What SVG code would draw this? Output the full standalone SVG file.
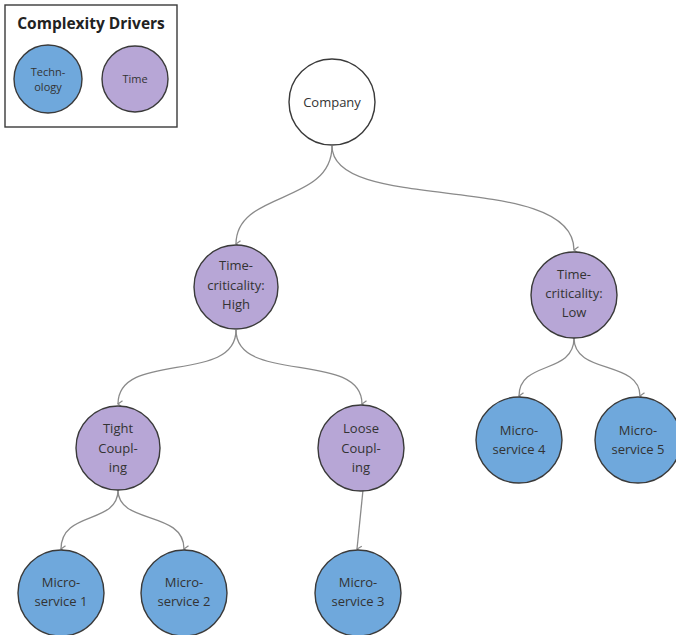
<svg xmlns="http://www.w3.org/2000/svg" width="676" height="635" viewBox="0 0 676 635">
  <defs>
    <marker id="arrow" markerWidth="8" markerHeight="8" refX="4" refY="7" orient="auto-start-reverse" markerUnits="userSpaceOnUse" viewBox="0 0 8 8">
      <path d="M0.8,2.5 L4,7 L7.2,2.5" fill="none" stroke="#8a8a8a" stroke-width="1.2"/>
    </marker>
    <style>
      .tech { fill: #6fa8dc; stroke: #3a3a3a; stroke-width: 1.4; }
      .time { fill: #b7a6d6; stroke: #3a3a3a; stroke-width: 1.4; }
      .plain { fill: #ffffff; stroke: #3a3a3a; stroke-width: 1.4; }
      .lbl { font-family: "Open Sans", "Liberation Sans", sans-serif; font-size: 13px; fill: #333333; text-anchor: middle; }
      .small { font-size: 11px; }
      .title { font-family: "Open Sans", "Liberation Sans", sans-serif; font-size: 15.5px; font-weight: bold; fill: #222222; text-anchor: middle; }
      .edge { fill: none; stroke: #8a8a8a; stroke-width: 1.3; marker-end: url(#arrow); }
    </style>
  </defs>
  <rect width="676" height="635" fill="#ffffff"/>

  <!-- legend -->
  <g id="legend">
    <rect x="5" y="5" width="172" height="122" fill="#ffffff" stroke="#3a3a3a" stroke-width="1.4"/>
    <text class="title" x="91" y="29">Complexity Drivers</text>
    <circle class="tech" cx="48" cy="79" r="34"/>
    <text class="lbl small" x="48" y="76">Techn-</text>
    <text class="lbl small" x="48" y="91">ology</text>
    <circle class="time" cx="135" cy="79" r="33"/>
    <text class="lbl small" x="135" y="83">Time</text>
  </g>

  <!-- connectors -->
  <g id="connectors">
    <path class="edge" d="M332,146 C332,205 236,190 236,244"/>
    <path class="edge" d="M332,146 C332,215 574,170 574,250"/>
    <path class="edge" d="M236,330 C236,385 118,350 118,404"/>
    <path class="edge" d="M236,330 C236,385 362,350 362,404"/>
    <path class="edge" d="M574,338 C574,375 519,360 519,396"/>
    <path class="edge" d="M574,338 C574,375 640,360 640,396"/>
    <path class="edge" d="M118,490 C118,525 61,510 61,549"/>
    <path class="edge" d="M118,490 C118,525 184,510 184,549"/>
    <path class="edge" d="M363,490 L357,549"/>
  </g>

  <g id="company">
    <circle class="plain" cx="332" cy="102" r="43"/>
    <text class="lbl" x="332" y="107" font-size="14">Company</text>
  </g>

  <g id="tc-high">
    <circle class="time" cx="236" cy="287" r="42"/>
    <text class="lbl" x="236" y="270">Time-</text>
    <text class="lbl" x="236" y="290">criticality:</text>
    <text class="lbl" x="236" y="309">High</text>
  </g>

  <g id="tc-low">
    <circle class="time" cx="574" cy="295" r="43"/>
    <text class="lbl" x="574" y="279">Time-</text>
    <text class="lbl" x="574" y="298">criticality:</text>
    <text class="lbl" x="574" y="317">Low</text>
  </g>

  <g id="tight">
    <circle class="time" cx="118" cy="448" r="42"/>
    <text class="lbl" x="118" y="433">Tight</text>
    <text class="lbl" x="118" y="453">Coupl-</text>
    <text class="lbl" x="118" y="472">ing</text>
  </g>

  <g id="loose">
    <circle class="time" cx="361" cy="448" r="43"/>
    <text class="lbl" x="361" y="433">Loose</text>
    <text class="lbl" x="361" y="453">Coupl-</text>
    <text class="lbl" x="361" y="472">ing</text>
  </g>

  <g id="ms4">
    <circle class="tech" cx="519" cy="440" r="43"/>
    <text class="lbl" x="519" y="435">Micro-</text>
    <text class="lbl" x="519" y="454">service 4</text>
  </g>

  <g id="ms5">
    <circle class="tech" cx="638" cy="440" r="43"/>
    <text class="lbl" x="638" y="435">Micro-</text>
    <text class="lbl" x="638" y="454">service 5</text>
  </g>

  <g id="ms1">
    <circle class="tech" cx="61" cy="593" r="43"/>
    <text class="lbl" x="61" y="587">Micro-</text>
    <text class="lbl" x="61" y="606">service 1</text>
  </g>

  <g id="ms2">
    <circle class="tech" cx="184" cy="593" r="43"/>
    <text class="lbl" x="184" y="587">Micro-</text>
    <text class="lbl" x="184" y="606">service 2</text>
  </g>

  <g id="ms3">
    <circle class="tech" cx="358" cy="593" r="43"/>
    <text class="lbl" x="358" y="587">Micro-</text>
    <text class="lbl" x="358" y="606">service 3</text>
  </g>
</svg>
